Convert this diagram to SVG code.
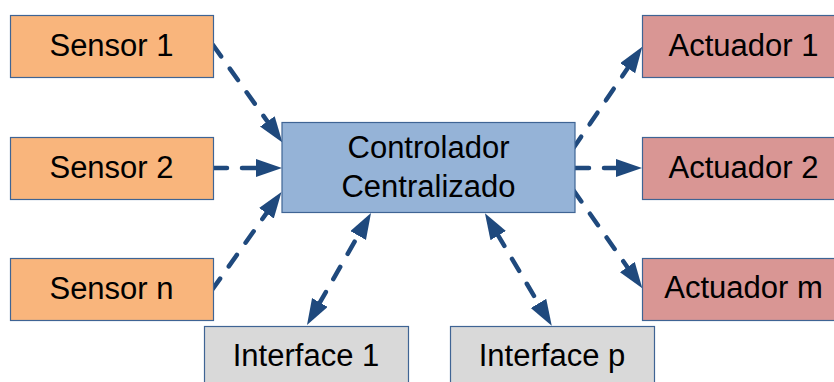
<svg xmlns="http://www.w3.org/2000/svg" width="834" height="382" viewBox="0 0 834 382">
<defs>
<style>
.box{stroke:#3F6494;stroke-width:1.2}
.sensor{fill:#F9B57C}
.act{fill:#D99694}
.ctrl{fill:#95B3D7}
.intf{fill:#D9D9D9}
.lbl{font-family:"Liberation Sans",Arial,sans-serif;font-size:31px;fill:#000;text-anchor:middle}
.conn{fill:none;stroke:#1F497D;stroke-width:4.5;stroke-dasharray:14 15;stroke-linecap:round;marker-end:url(#ah)}
.bi{marker-start:url(#ah)}
</style>
<marker id="ah" markerUnits="userSpaceOnUse" markerWidth="28" markerHeight="20" viewBox="0 0 28 20" refX="2" refY="9" orient="auto-start-reverse">
<path d="M0,0 L26,9 L0,18 z" fill="#1F497D"/>
</marker>
</defs>
<rect width="834" height="382" fill="#fff"/>
<g id="connectors">
<line class="conn" x1="213" y1="45" x2="268.5" y2="123"/>
<line class="conn" x1="213" y1="168" x2="258" y2="168"/>
<line class="conn" x1="212" y1="290" x2="267.6" y2="211.6"/>
<line class="conn bi" x1="318.9" y1="304.2" x2="359.1" y2="233.8"/>
<line class="conn bi" x1="497.2" y1="233.9" x2="539.5" y2="305.1"/>
<line class="conn" x1="573.3" y1="148.3" x2="628.8" y2="66.6"/>
<line class="conn" x1="575" y1="168" x2="618" y2="168"/>
<line class="conn" x1="573.3" y1="190" x2="628.5" y2="268.7"/>
</g>
<g id="sensor1"><rect class="box sensor" x="10.5" y="15.5" width="203" height="62"/><text class="lbl" x="111.5" y="56">Sensor 1</text></g>
<g id="sensor2"><rect class="box sensor" x="10.5" y="137.5" width="203" height="62"/><text class="lbl" x="111.5" y="178">Sensor 2</text></g>
<g id="sensorn"><rect class="box sensor" x="10.5" y="258.5" width="203" height="62"/><text class="lbl" x="111.5" y="299">Sensor n</text></g>
<g id="controller"><rect class="box ctrl" x="282" y="122.5" width="293" height="90"/><text class="lbl" x="428.5" y="158">Controlador</text><text class="lbl" x="428.5" y="197">Centralizado</text></g>
<g id="actuator1"><rect class="box act" x="642.5" y="15.5" width="203" height="62"/><text class="lbl" x="743.5" y="56">Actuador 1</text></g>
<g id="actuator2"><rect class="box act" x="642.5" y="137.5" width="203" height="62"/><text class="lbl" x="743.5" y="178">Actuador 2</text></g>
<g id="actuatorm"><rect class="box act" x="642.5" y="258.5" width="203" height="62"/><text class="lbl" x="743.5" y="298">Actuador m</text></g>
<g id="interface1"><rect class="box intf" x="204.5" y="326.5" width="204" height="62"/><text class="lbl" x="306" y="366">Interface 1</text></g>
<g id="interfacep"><rect class="box intf" x="450.5" y="326.5" width="204" height="62"/><text class="lbl" x="552" y="366">Interface p</text></g>
</svg>
